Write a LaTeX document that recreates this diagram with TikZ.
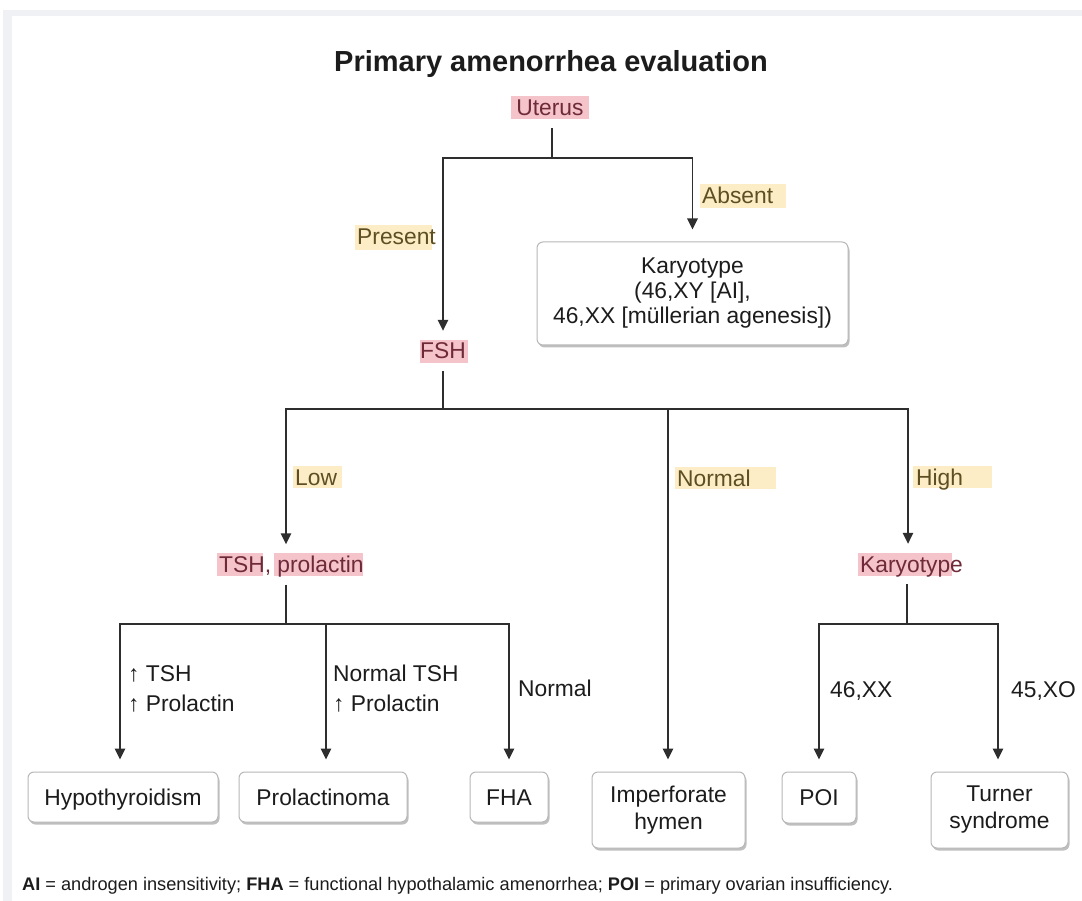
\documentclass[tikz,border=0pt]{standalone}
\usepackage{fontspec}
\setmainfont{Liberation Sans}
\usetikzlibrary{arrows.meta,shadows}
\definecolor{ink}{HTML}{1C1C1C}
\definecolor{wire}{HTML}{2E2E2E}
\definecolor{pinkhl}{HTML}{F5C3CA}
\definecolor{pinktx}{HTML}{6E2A38}
\definecolor{yelhl}{HTML}{FCEDC6}
\definecolor{yeltx}{HTML}{5E4F22}
\definecolor{boxline}{HTML}{B8B8B8}
\definecolor{framec}{HTML}{F0F1F5}
\begin{document}
\begin{tikzpicture}[x=1pt,y=-1pt,
  txt/.style={inner sep=0pt, text height=16pt, text depth=0pt,
    font=\fontsize{22.8}{27}\selectfont, text=ink},
  keytxt/.style={txt, text=pinktx},
  branch/.style={txt, text=yeltx, anchor=west},
  lab/.style={txt, text=ink, anchor=west},
  pinkbox/.style={fill=pinkhl},
  yelbox/.style={fill=yelhl},
  outcome/.style={draw=boxline, line width=1pt, rounded corners=6pt, fill=white,
    inner sep=0pt, align=center, text=ink,
    font=\fontsize{22.8}{27}\selectfont,
    drop shadow={shadow xshift=1.5pt, shadow yshift=-2.5pt, fill=black, opacity=0.25}},
  one/.style={outcome, text height=16pt, text depth=0pt},
  arr/.style={draw=wire, line width=1.4pt, -{Triangle[width=10.5pt,length=11pt]}, shorten >=12pt},
  stem/.style={draw=wire, line width=1.4pt, shorten <=12pt}
]
\useasboundingbox (0,0) rectangle (1082,901);
\fill[white] (0,0) rectangle (1082,901);
\fill[framec] (3,10) rectangle (1082,901);
\fill[white] (12,16) rectangle (1082,901);

% highlights
\fill[pinkbox] (511,96) rectangle (589,119);
\fill[pinkbox] (420,340) rectangle (468,363);
\fill[pinkbox] (217,553) rectangle (263,576);
\fill[pinkbox] (274,553) rectangle (363,576);
\fill[pinkbox] (858,553) rectangle (952,576);
\fill[yelbox] (355,225) rectangle (432,250);
\fill[yelbox] (700,184) rectangle (786,208);
\fill[yelbox] (293,466) rectangle (342,488);
\fill[yelbox] (675,467) rectangle (776,489);
\fill[yelbox] (913,466) rectangle (992,488);

% title
\node[inner sep=0pt, text height=21pt, text depth=0pt, text=ink,
  font=\bfseries\fontsize{29}{34}\selectfont] (title) at (551,61) {Primary amenorrhea evaluation};

% decision nodes
\node[keytxt] (uterus) at (550,108) {Uterus};
\node[keytxt] (fsh) at (443,351) {FSH};
\node[keytxt, anchor=west] (tsh) at (219,564.5) {TSH, prolactin};
\node[keytxt, anchor=west] (kary) at (860,564) {Karyotype};

% branch labels
\node[branch] (present) at (357,237) {Present};
\node[branch] (absent) at (702,196) {Absent};
\node[branch] (low) at (295,477) {Low};
\node[branch] (normal) at (677,478) {Normal};
\node[branch] (high) at (916,477) {High};

\node[lab] (l1a) at (128,673) {↑ TSH};
\node[lab] (l1b) at (128,703) {↑ Prolactin};
\node[lab] (l2a) at (333,673) {Normal TSH};
\node[lab] (l2b) at (333,703) {↑ Prolactin};
\node[lab] (l3) at (518,688) {Normal};
\node[lab] (l4) at (830,689) {46,XX};
\node[lab] (l5) at (1011,689) {45,XO};

% boxes
\node[outcome, minimum width=311pt, minimum height=103pt,
  font=\fontsize{22.8}{25}\selectfont] (kbox) at (692.5,293.5)
  {Karyotype\\(46,XY [AI],\\46,XX [müllerian agenesis])};
\node[one, minimum width=190pt, minimum height=50pt] (hypo) at (123,797) {Hypothyroidism};
\node[one, minimum width=168pt, minimum height=50pt] (prl) at (323,797) {Prolactinoma};
\node[one, minimum width=78pt, minimum height=50pt] (fha) at (509,797) {FHA};
\node[outcome, minimum width=153pt, minimum height=76pt] (imp) at (668.5,810) {Imperforate\\hymen};
\node[one, minimum width=74pt, minimum height=51pt] (poi) at (819,797.5) {POI};
\node[outcome, minimum width=137pt, minimum height=76pt] (turner) at (999.5,810) {Turner\\syndrome};

% junctions
\coordinate (j1) at (552,158);
\coordinate (j2) at (443,409);
\coordinate (bL) at (286,409);
\coordinate (bN) at (668,409);
\coordinate (bH) at (908,409);
\coordinate (j3) at (286,624);
\coordinate (c1) at (120,624);
\coordinate (c2) at (326,624);
\coordinate (c3) at (509,624);
\coordinate (j4) at (907,624);
\coordinate (d1) at (819,624);
\coordinate (d2) at (998,624);

% connectors
\draw[stem] (uterus.south -| j1) -- (j1);
\draw[arr] (j1) -| (fsh.north);
\draw[arr] (j1) -| (kbox.north);
\draw[stem] (fsh.south) -- (j2);
\draw[arr] (j2) -| (bL |- tsh.north);
\draw[arr] (j2) -| (bH |- kary.north);
\draw[arr] (bN) -- (bN |- imp.north);
\draw[stem] (j3 |- tsh.south) -- (j3);
\draw[arr] (j3) -| (c1 |- hypo.north);
\draw[arr] (j3) -| (c3 |- fha.north);
\draw[arr] (c2) -- (c2 |- prl.north);
\draw[stem] (j4 |- kary.south) -- (j4);
\draw[arr] (j4) -| (d1 |- poi.north);
\draw[arr] (j4) -| (d2 |- turner.north);

% footnote
\node[inner sep=0pt, anchor=west, text=ink, text height=13pt, text depth=0pt,
  font=\fontsize{18.2}{21}\selectfont] (foot) at (22,884)
  {\textbf{AI} = androgen insensitivity; \textbf{FHA} = functional hypothalamic amenorrhea; \textbf{POI} = primary ovarian insufficiency.};
\end{tikzpicture}
\end{document}
